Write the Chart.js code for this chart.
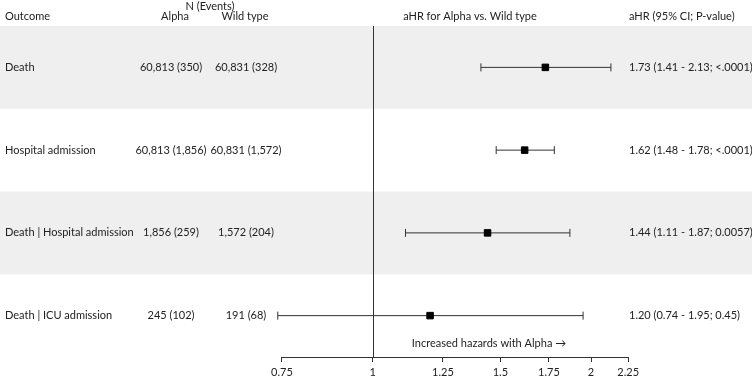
<!DOCTYPE html>
<html>
<head>
<meta charset="utf-8">
<script src="https://cdn.jsdelivr.net/npm/chart.js@4/dist/chart.umd.min.js"></script>
<style>
  html, body { margin: 0; padding: 0; background: #fff; }
  #wrap { width: 752px; height: 378px; position: relative; }
</style>
</head>
<body>
<div id="wrap"><canvas id="c"></canvas></div>
<script>
const outcomes = ['Death', 'Hospital admission', 'Death | Hospital admission', 'Death | ICU admission']
const alphaN = ['60,813 (350)', '60,813 (1,856)', '1,856 (259)', '245 (102)']
const wildN = ['60,831 (328)', '60,831 (1,572)', '1,572 (204)', '191 (68)']
const hr = [1.73, 1.62, 1.44, 1.20]
const lower = [1.41, 1.48, 1.11, 0.74]
const upper = [2.13, 1.78, 1.87, 1.95]
const pValues = ['<.0001', '<.0001', '0.0057', '0.45']
const xTicks = [0.75, 1, 1.25, 1.5, 1.75, 2, 2.25]

const FONT = 'Lato, "Open Sans", sans-serif'
const fontSize = 11

// one line dataset per confidence interval, capped with vertical line markers
const ciDatasets = outcomes.map((o, i) => ({
  type: 'scatter',
  data: [{ x: lower[i], y: i }, { x: upper[i], y: i }],
  showLine: true,
  borderColor: '#333',
  borderWidth: 1,
  pointStyle: 'line',
  rotation: 90,
  pointRadius: 4,
  pointBorderColor: '#333',
  pointBorderWidth: 1,
  order: 2
}))

const tablePlugin = {
  id: 'table',
  beforeDraw(chart) {
    const { ctx, chartArea, scales } = chart
    const y = scales.y
    ctx.save()
    // alternating row bands
    ctx.fillStyle = '#efefef'
    outcomes.forEach((o, i) => {
      if (i % 2 === 0) {
        const top = y.getPixelForValue(i - 0.5)
        const bot = y.getPixelForValue(i + 0.5)
        ctx.fillRect(0, top, chart.width, bot - top)
      }
    })
    // reference line at HR = 1
    const x1 = scales.x.getPixelForValue(1)
    ctx.strokeStyle = '#333'
    ctx.lineWidth = 1
    ctx.beginPath()
    ctx.moveTo(Math.round(x1) + 0.5, chartArea.top)
    ctx.lineTo(Math.round(x1) + 0.5, chartArea.bottom)
    ctx.stroke()
    // axis line only between first and last tick
    const xa = scales.x.getPixelForValue(xTicks[0])
    const xb = scales.x.getPixelForValue(xTicks[xTicks.length - 1])
    ctx.beginPath()
    ctx.moveTo(xa, chartArea.bottom + 0.5)
    ctx.lineTo(xb, chartArea.bottom + 0.5)
    ctx.stroke()
    ctx.restore()
  },
  afterDraw(chart) {
    const { ctx, scales } = chart
    const y = scales.y
    ctx.save()
    ctx.fillStyle = '#222'
    ctx.font = fontSize + 'px ' + FONT
    ctx.textBaseline = 'middle'
    ctx.textAlign = 'left'
    ctx.fillText('Outcome', 5, 16)
    ctx.fillText('aHR (95% CI; P-value)', 629, 16)
    ctx.textAlign = 'center'
    ctx.fillText('N (Events)', 210, 6)
    ctx.fillText('Alpha', 175, 16)
    ctx.fillText('Wild type', 245, 16)
    ctx.fillText('aHR for Alpha vs. Wild type', 470, 16)
    ctx.fillText('Increased hazards with Alpha \u2192', 489, 343)
    outcomes.forEach((o, i) => {
      const py = y.getPixelForValue(i)
      ctx.textAlign = 'left'
      ctx.fillText(o, 5, py)
      ctx.fillText(hr[i].toFixed(2) + ' (' + lower[i].toFixed(2) + ' - ' + upper[i].toFixed(2) + '; ' + pValues[i] + ')', 629, py)
      ctx.textAlign = 'center'
      ctx.fillText(alphaN[i], 171, py)
      ctx.fillText(wildN[i], 246, py)
    })
    ctx.restore()
  }
}

new Chart(document.getElementById('c'), {
  type: 'scatter',
  data: {
    datasets: [
      {
        data: hr.map((v, i) => ({ x: v, y: i })),
        pointStyle: 'rect',
        pointRadius: 4.6,
        backgroundColor: '#000',
        borderColor: '#000',
        borderWidth: 1,
        order: 1
      },
      ...ciDatasets
    ]
  },
  options: {
    responsive: true,
    maintainAspectRatio: false,
    animation: false,
    layout: { padding: { left: 270, right: 112, top: 26, bottom: 0 } },
    plugins: { legend: { display: false }, tooltip: { enabled: false } },
    scales: {
      x: {
        type: 'logarithmic',
        bounds: 'data',
        min: 0.722,
        max: 2.336,
        afterBuildTicks: (axis) => { axis.ticks = xTicks.map(v => ({ value: v })) },
        afterFit: (axis) => { axis.height = 21 },
        ticks: {
          autoSkip: false,
          maxRotation: 0,
          padding: 4,
          color: '#222',
          font: { family: FONT, size: fontSize },
          callback: (v) => String(v)
        },
        grid: { display: true, drawOnChartArea: false, drawTicks: true, tickLength: 5, color: '#333' },
        border: { display: false }
      },
      y: {
        display: false,
        min: -0.5,
        max: 3.5,
        reverse: true
      }
    }
  },
  plugins: [tablePlugin]
})
</script>
</body>
</html>
